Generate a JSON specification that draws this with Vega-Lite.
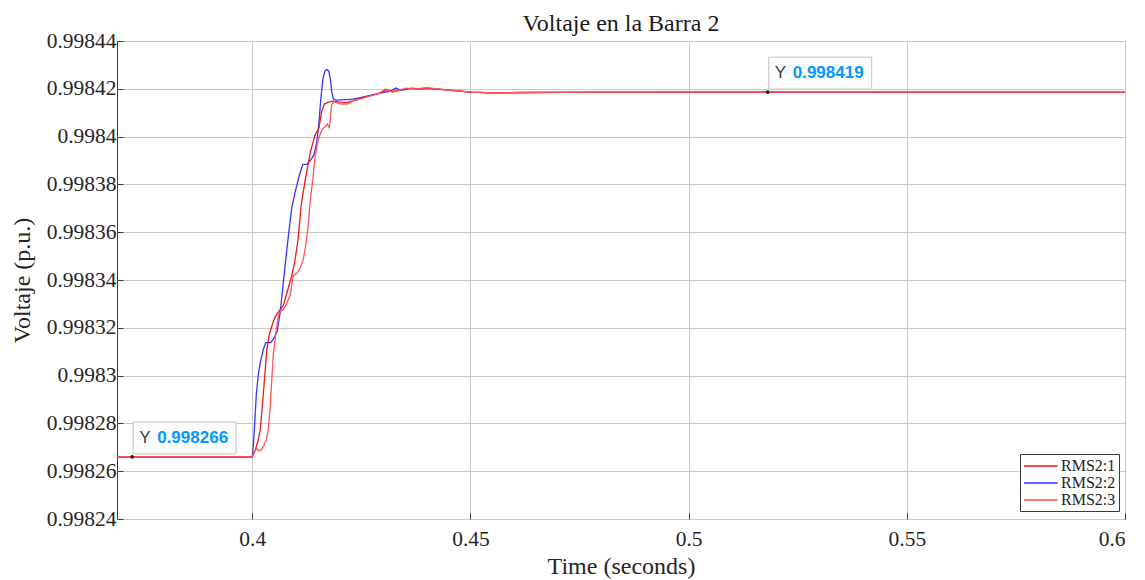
{
  "$schema": "https://vega.github.io/schema/vega-lite/v6.json",
  "width": 1008,
  "height": 478,
  "autosize": {"type": "none"},
  "padding": {"left": 117, "top": 41, "right": 20, "bottom": 61},
  "background": "white",
  "config": {
    "view": {"stroke": "#3c3c3c", "strokeWidth": 1},
    "axis": {
      "labelFont": "Liberation Serif",
      "labelFontSize": 21.5,
      "labelColor": "#262626",
      "titleFont": "Liberation Serif",
      "titleFontSize": 24,
      "titleFontWeight": "normal",
      "titleColor": "#262626",
      "grid": true,
      "gridColor": "#c8c8c8",
      "gridWidth": 1,
      "domain": false,
      "ticks": true,
      "tickColor": "#3c3c3c",
      "tickSize": -6,
      "labelPadding": 7
    },
    "legend": {
      "orient": "none",
      "legendX": 903,
      "legendY": 413,
      "strokeColor": "#3a3a3a",
      "fillColor": "white",
      "padding": 3,
      "symbolType": "M-1,0L3.2,0",
      "symbolSize": 256,
      "symbolStrokeWidth": 1.5,
      "labelFont": "Liberation Serif",
      "labelFontSize": 16,
      "labelColor": "#222222",
      "rowPadding": 0,
      "labelOffset": 20
    }
  },
  "title": {
    "text": "Voltaje en la Barra 2",
    "font": "Liberation Serif",
    "fontSize": 24,
    "fontWeight": "normal",
    "color": "#1a1a1a",
    "anchor": "middle",
    "offset": 8,
    "dy": 14
  },
  "datasets": {
    "series": [
      {"s": "RMS2:2", "t": 0.369, "v": 0.998266},
      {"s": "RMS2:2", "t": 0.4, "v": 0.998266},
      {"s": "RMS2:2", "t": 0.40034, "v": 0.9982731},
      {"s": "RMS2:2", "t": 0.40092, "v": 0.998292},
      {"s": "RMS2:2", "t": 0.40138, "v": 0.9983004},
      {"s": "RMS2:2", "t": 0.40183, "v": 0.9983054},
      {"s": "RMS2:2", "t": 0.40252, "v": 0.9983109},
      {"s": "RMS2:2", "t": 0.4031, "v": 0.9983138},
      {"s": "RMS2:2", "t": 0.40424, "v": 0.9983138},
      {"s": "RMS2:2", "t": 0.40505, "v": 0.9983159},
      {"s": "RMS2:2", "t": 0.40573, "v": 0.9983188},
      {"s": "RMS2:2", "t": 0.40642, "v": 0.9983268},
      {"s": "RMS2:2", "t": 0.40711, "v": 0.998339},
      {"s": "RMS2:2", "t": 0.4078, "v": 0.9983507},
      {"s": "RMS2:2", "t": 0.40837, "v": 0.9983599},
      {"s": "RMS2:2", "t": 0.40906, "v": 0.9983704},
      {"s": "RMS2:2", "t": 0.40986, "v": 0.9983771},
      {"s": "RMS2:2", "t": 0.41067, "v": 0.998383},
      {"s": "RMS2:2", "t": 0.41158, "v": 0.9983884},
      {"s": "RMS2:2", "t": 0.4125, "v": 0.9983884},
      {"s": "RMS2:2", "t": 0.4133, "v": 0.9983901},
      {"s": "RMS2:2", "t": 0.41411, "v": 0.9983922},
      {"s": "RMS2:2", "t": 0.41479, "v": 0.9983977},
      {"s": "RMS2:2", "t": 0.41525, "v": 0.9984052},
      {"s": "RMS2:2", "t": 0.41571, "v": 0.9984157},
      {"s": "RMS2:2", "t": 0.41617, "v": 0.9984241},
      {"s": "RMS2:2", "t": 0.41663, "v": 0.9984274},
      {"s": "RMS2:2", "t": 0.41709, "v": 0.9984281},
      {"s": "RMS2:2", "t": 0.41755, "v": 0.9984274},
      {"s": "RMS2:2", "t": 0.41789, "v": 0.9984241},
      {"s": "RMS2:2", "t": 0.41823, "v": 0.9984186},
      {"s": "RMS2:2", "t": 0.41858, "v": 0.9984157},
      {"s": "RMS2:2", "t": 0.41927, "v": 0.9984153},
      {"s": "RMS2:2", "t": 0.42133, "v": 0.9984155},
      {"s": "RMS2:2", "t": 0.42294, "v": 0.9984157},
      {"s": "RMS2:2", "t": 0.42477, "v": 0.9984163},
      {"s": "RMS2:2", "t": 0.42706, "v": 0.9984172},
      {"s": "RMS2:2", "t": 0.42936, "v": 0.9984182},
      {"s": "RMS2:2", "t": 0.43165, "v": 0.998419},
      {"s": "RMS2:2", "t": 0.43303, "v": 0.9984203},
      {"s": "RMS2:2", "t": 0.43394, "v": 0.9984193},
      {"s": "RMS2:2", "t": 0.43624, "v": 0.9984201},
      {"s": "RMS2:2", "t": 0.43968, "v": 0.9984201},
      {"s": "RMS2:2", "t": 0.44312, "v": 0.9984198},
      {"s": "RMS2:2", "t": 0.44656, "v": 0.9984192},
      {"s": "RMS2:2", "t": 0.45, "v": 0.9984186},
      {"s": "RMS2:2", "t": 0.45459, "v": 0.9984183},
      {"s": "RMS2:2", "t": 0.46147, "v": 0.9984185},
      {"s": "RMS2:2", "t": 0.48, "v": 0.9984186},
      {"s": "RMS2:2", "t": 0.52, "v": 0.9984186},
      {"s": "RMS2:2", "t": 0.6, "v": 0.9984186},

      {"s": "RMS2:1", "t": 0.369, "v": 0.998266},
      {"s": "RMS2:1", "t": 0.4, "v": 0.998266},
      {"s": "RMS2:1", "t": 0.40069, "v": 0.9982689},
      {"s": "RMS2:1", "t": 0.40126, "v": 0.9982723},
      {"s": "RMS2:1", "t": 0.40183, "v": 0.9982773},
      {"s": "RMS2:1", "t": 0.40252, "v": 0.998292},
      {"s": "RMS2:1", "t": 0.40333, "v": 0.9983109},
      {"s": "RMS2:1", "t": 0.4039, "v": 0.9983172},
      {"s": "RMS2:1", "t": 0.40459, "v": 0.9983213},
      {"s": "RMS2:1", "t": 0.40528, "v": 0.9983247},
      {"s": "RMS2:1", "t": 0.40619, "v": 0.9983272},
      {"s": "RMS2:1", "t": 0.40711, "v": 0.9983293},
      {"s": "RMS2:1", "t": 0.40803, "v": 0.9983352},
      {"s": "RMS2:1", "t": 0.40906, "v": 0.9983419},
      {"s": "RMS2:1", "t": 0.40975, "v": 0.9983478},
      {"s": "RMS2:1", "t": 0.41044, "v": 0.9983562},
      {"s": "RMS2:1", "t": 0.41124, "v": 0.9983717},
      {"s": "RMS2:1", "t": 0.41216, "v": 0.9983821},
      {"s": "RMS2:1", "t": 0.4133, "v": 0.9983935},
      {"s": "RMS2:1", "t": 0.41445, "v": 0.998401},
      {"s": "RMS2:1", "t": 0.41525, "v": 0.9984035},
      {"s": "RMS2:1", "t": 0.41594, "v": 0.9984107},
      {"s": "RMS2:1", "t": 0.41651, "v": 0.9984136},
      {"s": "RMS2:1", "t": 0.41743, "v": 0.9984144},
      {"s": "RMS2:1", "t": 0.41858, "v": 0.9984148},
      {"s": "RMS2:1", "t": 0.42018, "v": 0.9984144},
      {"s": "RMS2:1", "t": 0.42156, "v": 0.9984142},
      {"s": "RMS2:1", "t": 0.42294, "v": 0.998415},
      {"s": "RMS2:1", "t": 0.42523, "v": 0.9984163},
      {"s": "RMS2:1", "t": 0.42752, "v": 0.9984174},
      {"s": "RMS2:1", "t": 0.42982, "v": 0.9984186},
      {"s": "RMS2:1", "t": 0.43096, "v": 0.9984197},
      {"s": "RMS2:1", "t": 0.43211, "v": 0.9984186},
      {"s": "RMS2:1", "t": 0.4344, "v": 0.9984197},
      {"s": "RMS2:1", "t": 0.4367, "v": 0.9984203},
      {"s": "RMS2:1", "t": 0.43853, "v": 0.9984199},
      {"s": "RMS2:1", "t": 0.44037, "v": 0.9984203},
      {"s": "RMS2:1", "t": 0.44312, "v": 0.9984198},
      {"s": "RMS2:1", "t": 0.44656, "v": 0.9984192},
      {"s": "RMS2:1", "t": 0.45, "v": 0.9984186},
      {"s": "RMS2:1", "t": 0.45573, "v": 0.9984183},
      {"s": "RMS2:1", "t": 0.47, "v": 0.9984185},
      {"s": "RMS2:1", "t": 0.5, "v": 0.9984186},
      {"s": "RMS2:1", "t": 0.6, "v": 0.9984186},

      {"s": "RMS2:3", "t": 0.369, "v": 0.998266},
      {"s": "RMS2:3", "t": 0.4, "v": 0.998266},
      {"s": "RMS2:3", "t": 0.40046, "v": 0.9982681},
      {"s": "RMS2:3", "t": 0.40103, "v": 0.9982694},
      {"s": "RMS2:3", "t": 0.4016, "v": 0.9982685},
      {"s": "RMS2:3", "t": 0.40206, "v": 0.9982689},
      {"s": "RMS2:3", "t": 0.40264, "v": 0.9982706},
      {"s": "RMS2:3", "t": 0.40321, "v": 0.9982731},
      {"s": "RMS2:3", "t": 0.40367, "v": 0.9982773},
      {"s": "RMS2:3", "t": 0.40413, "v": 0.9982878},
      {"s": "RMS2:3", "t": 0.40482, "v": 0.9983088},
      {"s": "RMS2:3", "t": 0.4055, "v": 0.9983193},
      {"s": "RMS2:3", "t": 0.40619, "v": 0.9983268},
      {"s": "RMS2:3", "t": 0.40711, "v": 0.9983276},
      {"s": "RMS2:3", "t": 0.4078, "v": 0.9983297},
      {"s": "RMS2:3", "t": 0.40872, "v": 0.9983339},
      {"s": "RMS2:3", "t": 0.4094, "v": 0.9983419},
      {"s": "RMS2:3", "t": 0.41021, "v": 0.9983427},
      {"s": "RMS2:3", "t": 0.41101, "v": 0.9983452},
      {"s": "RMS2:3", "t": 0.4117, "v": 0.9983486},
      {"s": "RMS2:3", "t": 0.41227, "v": 0.9983549},
      {"s": "RMS2:3", "t": 0.41273, "v": 0.9983612},
      {"s": "RMS2:3", "t": 0.4133, "v": 0.9983738},
      {"s": "RMS2:3", "t": 0.41388, "v": 0.9983821},
      {"s": "RMS2:3", "t": 0.41445, "v": 0.9983926},
      {"s": "RMS2:3", "t": 0.41514, "v": 0.9983989},
      {"s": "RMS2:3", "t": 0.41594, "v": 0.9984027},
      {"s": "RMS2:3", "t": 0.41674, "v": 0.9984044},
      {"s": "RMS2:3", "t": 0.4172, "v": 0.9984052},
      {"s": "RMS2:3", "t": 0.41766, "v": 0.9984037},
      {"s": "RMS2:3", "t": 0.41823, "v": 0.9984136},
      {"s": "RMS2:3", "t": 0.41881, "v": 0.9984146},
      {"s": "RMS2:3", "t": 0.42018, "v": 0.9984136},
      {"s": "RMS2:3", "t": 0.42179, "v": 0.9984136},
      {"s": "RMS2:3", "t": 0.42294, "v": 0.9984148},
      {"s": "RMS2:3", "t": 0.42523, "v": 0.998416},
      {"s": "RMS2:3", "t": 0.42752, "v": 0.9984172},
      {"s": "RMS2:3", "t": 0.42936, "v": 0.9984184},
      {"s": "RMS2:3", "t": 0.4305, "v": 0.9984199},
      {"s": "RMS2:3", "t": 0.43165, "v": 0.9984188},
      {"s": "RMS2:3", "t": 0.43394, "v": 0.9984195},
      {"s": "RMS2:3", "t": 0.43509, "v": 0.9984203},
      {"s": "RMS2:3", "t": 0.43739, "v": 0.9984199},
      {"s": "RMS2:3", "t": 0.43968, "v": 0.9984205},
      {"s": "RMS2:3", "t": 0.44197, "v": 0.9984201},
      {"s": "RMS2:3", "t": 0.44541, "v": 0.9984194},
      {"s": "RMS2:3", "t": 0.45, "v": 0.9984186},
      {"s": "RMS2:3", "t": 0.45573, "v": 0.9984183},
      {"s": "RMS2:3", "t": 0.47, "v": 0.9984185},
      {"s": "RMS2:3", "t": 0.5, "v": 0.9984186},
      {"s": "RMS2:3", "t": 0.6, "v": 0.9984186}
    ],
    "tips": [
      {"t": 0.37248, "v": 0.998266},
      {"t": 0.51812, "v": 0.9984186}
    ]
  },
  "layer": [
    {
      "data": {"name": "series"},
      "mark": {"type": "line", "strokeWidth": 1.3, "clip": true},
      "encoding": {
        "x": {
          "field": "t",
          "type": "quantitative",
          "scale": {"domain": [0.369, 0.6], "nice": false, "zero": false},
          "axis": {"values": [0.4, 0.45, 0.5, 0.55, 0.6], "format": "~g", "title": "Time (seconds)", "labelPadding": 15, "titlePadding": 5}
        },
        "y": {
          "field": "v",
          "type": "quantitative",
          "scale": {"domain": [0.99824, 0.99844], "nice": false, "zero": false},
          "axis": {
            "values": [0.99824, 0.99826, 0.99828, 0.9983, 0.99832, 0.99834, 0.99836, 0.99838, 0.9984, 0.99842, 0.99844],
            "format": ".5~f",
            "title": "Voltaje (p.u.)",
            "titlePadding": 12
          }
        },
        "color": {
          "field": "s",
          "type": "nominal",
          "sort": null,
          "scale": {"domain": ["RMS2:1", "RMS2:2", "RMS2:3"], "range": ["#f01818", "#3535ff", "#ff5555"]},
          "legend": {"title": null}
        }
      }
    },
    {
      "data": {"name": "tips"},
      "mark": {
        "type": "point",
        "shape": "M0.02,-0.673L2,-0.673L2,-0.058L0.02,-0.058Z",
        "size": 10816,
        "filled": true,
        "fill": "#fbfbfb",
        "stroke": "#c4c4c4",
        "strokeWidth": 1,
        "opacity": 1,
        "fillOpacity": 1
      },
      "encoding": {
        "x": {"field": "t", "type": "quantitative"},
        "y": {"field": "v", "type": "quantitative"}
      }
    },
    {
      "data": {"name": "tips"},
      "mark": {"type": "point", "filled": true, "size": 14, "color": "#1a1a1a", "opacity": 1},
      "encoding": {
        "x": {"field": "t", "type": "quantitative"},
        "y": {"field": "v", "type": "quantitative"}
      }
    },
    {
      "data": {"name": "tips"},
      "mark": {"type": "text", "text": "Y", "align": "left", "baseline": "middle", "dx": 7, "dy": -19, "font": "Liberation Sans", "fontSize": 17, "color": "#404040"},
      "encoding": {
        "x": {"field": "t", "type": "quantitative"},
        "y": {"field": "v", "type": "quantitative"}
      }
    },
    {
      "data": {"name": "tips"},
      "mark": {"type": "text", "align": "left", "baseline": "middle", "dx": 25, "dy": -19, "font": "Liberation Sans", "fontSize": 17, "fontWeight": "bold", "color": "#0099ff"},
      "encoding": {
        "x": {"field": "t", "type": "quantitative"},
        "y": {"field": "v", "type": "quantitative"},
        "text": {"field": "v", "type": "quantitative", "format": ".6f"}
      }
    }
  ]
}
